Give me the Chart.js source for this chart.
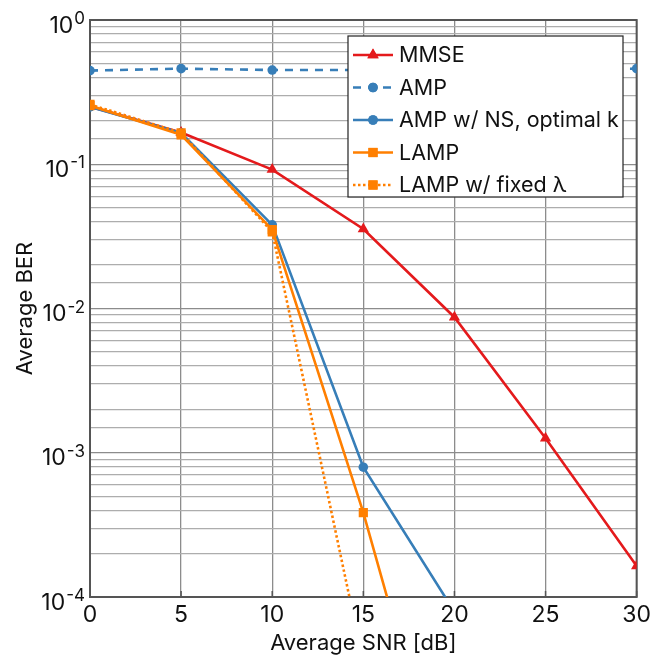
<!DOCTYPE html>
<html>
<head>
<meta charset="utf-8">
<script src="https://cdn.jsdelivr.net/npm/chart.js@4.4.0/dist/chart.umd.min.js"></script>
<style>
  html, body { margin: 0; padding: 0; background: #fff; }
  #wrap { width: 655px; height: 662px; }
</style>
</head>
<body>
<div id="wrap"><canvas id="grafico" width="655" height="662"></canvas></div>
<script>
// datos
const snr = [0, 5, 10, 15, 20, 25, 30];
const mmse = [0.251, 0.166, 0.0918, 0.0356, 0.0087, 0.00126, 0.000164];
const amp = [0.446, 0.46, 0.45, 0.45, 0.45, 0.455, 0.46];
const ampNs = [0.25, 0.165, 0.038, 0.000794, 0.000079];
const lamp = [0.255, 0.16, 0.0352, 0.000384, 0.0000022];
const lampFixed = [0.26, 0.165, 0.034, 0.000035];
const xTicks = [0, 5, 10, 15, 20, 25, 30];
const yExponents = [0, -1, -2, -3, -4];
const seriesNames = ["MMSE", "AMP", "AMP w/ NS, optimal k", "LAMP", "LAMP w/ fixed λ"];

const FONT = "Inter, 'Noto Sans', sans-serif";

function toPoints(vals) {
  return vals.map((v, i) => ({ x: snr[i], y: v }));
}

// marco del grafico y marcas inferiores
const framePlugin = {
  id: "frame",
  beforeDatasetsDraw(chart) {
    const { ctx, chartArea: a, scales } = chart;
    ctx.save();
    ctx.strokeStyle = "#555";
    ctx.lineWidth = 1.5;
    xTicks.forEach(t => {
      const px = scales.x.getPixelForValue(t);
      ctx.beginPath();
      ctx.moveTo(px, a.bottom);
      ctx.lineTo(px, a.bottom - 6);
      ctx.stroke();
    });
    ctx.lineWidth = 2;
    ctx.strokeRect(a.left, a.top, a.right - a.left, a.bottom - a.top);
    ctx.restore();
  }
};

// etiquetas 10^n del eje y con exponente
const powerLabels = {
  id: "powerLabels",
  afterDraw(chart) {
    const { ctx, scales } = chart;
    const xEnd = 85;
    ctx.save();
    ctx.fillStyle = "#111";
    ctx.textBaseline = "alphabetic";
    yExponents.forEach(e => {
      const py = scales.y.getPixelForValue(Math.pow(10, e));
      const exp = String(e);
      ctx.font = "17px " + FONT;
      const w = ctx.measureText(exp).width;
      ctx.textAlign = "left";
      ctx.fillText(exp, xEnd - w, py + 4);
      ctx.font = "23px " + FONT;
      ctx.textAlign = "right";
      ctx.fillText("10", xEnd - w - 1, py + 12.5);
    });
    ctx.restore();
  }
};

// leyenda dentro del area
const legendPlugin = {
  id: "legendBox",
  afterDatasetsDraw(chart) {
    const ctx = chart.ctx;
    const box = { x: 348, y: 36, w: 275, h: 161 };
    ctx.save();
    ctx.fillStyle = "#fff";
    ctx.fillRect(box.x, box.y, box.w, box.h);
    ctx.strokeStyle = "#222";
    ctx.lineWidth = 1.2;
    ctx.strokeRect(box.x, box.y, box.w, box.h);
    chart.data.datasets.forEach((ds, i) => {
      const y = 55 + i * 32.5;
      ctx.save();
      ctx.strokeStyle = ds.borderColor;
      ctx.lineWidth = ds.borderWidth;
      ctx.setLineDash(ds.borderDash || []);
      ctx.beginPath();
      ctx.moveTo(353, y);
      ctx.lineTo(393, y);
      ctx.stroke();
      ctx.setLineDash([]);
      ctx.fillStyle = ds.backgroundColor;
      Chart.helpers.drawPoint(ctx, {
        pointStyle: ds.pointStyle, radius: ds.pointRadius, rotation: 0, borderWidth: 0
      }, 373, y);
      ctx.fill();
      ctx.restore();
      ctx.fillStyle = "#111";
      ctx.font = "21.5px " + FONT;
      ctx.textBaseline = "middle";
      ctx.fillText(ds.label, 399, y + 1);
    });
    ctx.restore();
  }
};

const ctx = document.getElementById("grafico").getContext("2d");
new Chart(ctx, {
  type: "line",
  data: {
    datasets: [
      {
        label: seriesNames[0], data: toPoints(mmse), order: 5,
        borderColor: "#e41a1c", backgroundColor: "#e41a1c", borderWidth: 2.6,
        pointStyle: "triangle", pointRadius: 6.5, pointBorderWidth: 0
      },
      {
        label: seriesNames[1], data: toPoints(amp), order: 4,
        borderColor: "#377eb8", backgroundColor: "#377eb8", borderWidth: 2.6,
        borderDash: [8, 7], pointStyle: "circle", pointRadius: 4.8, pointBorderWidth: 0
      },
      {
        label: seriesNames[2], data: toPoints(ampNs), order: 3,
        borderColor: "#377eb8", backgroundColor: "#377eb8", borderWidth: 2.6,
        pointStyle: "circle", pointRadius: 4.8, pointBorderWidth: 0
      },
      {
        label: seriesNames[3], data: toPoints(lamp), order: 2,
        borderColor: "#ff7f00", backgroundColor: "#ff7f00", borderWidth: 2.6,
        pointStyle: "rect", pointRadius: 6.5, pointBorderWidth: 0
      },
      {
        label: seriesNames[4], data: toPoints(lampFixed), order: 1,
        borderColor: "#ff7f00", backgroundColor: "#ff7f00", borderWidth: 2.6,
        borderDash: [2.5, 2.5], pointStyle: "rect", pointRadius: 6.5, pointBorderWidth: 0
      }
    ]
  },
  options: {
    responsive: false,
    animation: false,
    events: [],
    layout: { padding: { top: 20, right: 17, left: 0, bottom: 0 } },
    plugins: { legend: { display: false }, tooltip: { enabled: false } },
    scales: {
      x: {
        type: "linear", min: 0, max: 30,
        afterBuildTicks: (scale) => { scale.ticks = xTicks.map(v => ({ value: v })); },
        afterFit: (scale) => { scale.height = 65; },
        grid: { color: "#8c8c8c", lineWidth: 1.3, drawTicks: false },
        border: { display: false },
        ticks: { color: "#111", font: { size: 23, family: FONT }, padding: 4, maxRotation: 0 },
        title: { display: true, text: "Average SNR [dB]", color: "#111", font: { size: 22, family: FONT }, padding: { top: 0, bottom: 5 } }
      },
      y: {
        type: "logarithmic", min: 0.0001, max: 1,
        afterFit: (scale) => { scale.width = 90; },
        grid: {
          drawTicks: false,
          color: (c) => {
            const v = c.tick ? c.tick.value : 1;
            const e = Math.log10(v);
            return Math.abs(e - Math.round(e)) < 1e-6 ? "#8c8c8c" : "#adadad";
          },
          lineWidth: 1.3
        },
        border: { display: false },
        ticks: { autoSkip: false, display: false },
        title: { display: true, text: "Average BER", color: "#111", font: { size: 22, family: FONT }, padding: { top: 12, bottom: 2 } }
      }
    }
  },
  plugins: [framePlugin, legendPlugin, powerLabels]
});
</script>
</body>
</html>
